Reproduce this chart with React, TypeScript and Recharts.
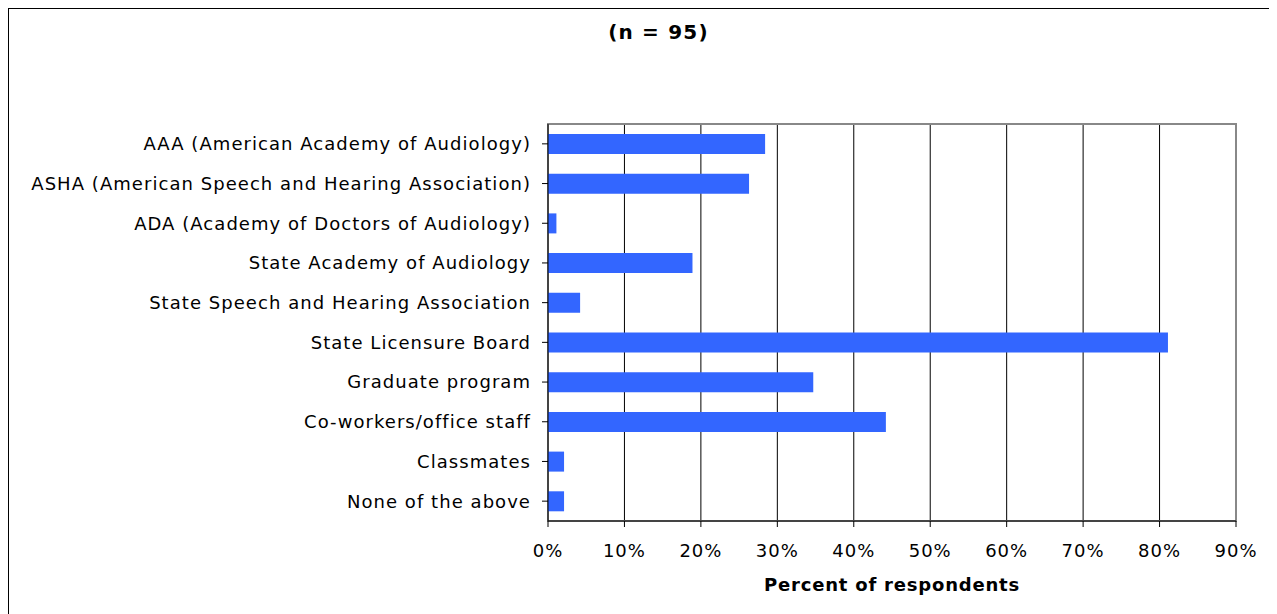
import { BarChart, Bar, XAxis, YAxis, CartesianGrid, ReferenceArea } from "recharts";

const sources = [
  "AAA (American Academy of Audiology)",
  "ASHA (American Speech and Hearing Association)",
  "ADA (Academy of Doctors of Audiology)",
  "State Academy of Audiology",
  "State Speech and Hearing Association",
  "State Licensure Board",
  "Graduate program",
  "Co-workers/office staff",
  "Classmates",
  "None of the above",
];

const percents = [28.4, 26.3, 1.1, 18.9, 4.2, 81.1, 34.7, 44.2, 2.1, 2.1];

const xTicks = [0, 10, 20, 30, 40, 50, 60, 70, 80, 90];

const chartData = sources.map((name, i) => ({ name, value: percents[i] }));

const font = "'DejaVu Sans', Verdana, sans-serif";

export default function App() {
  return (
    <div
      style={{
        position: "relative",
        width: 1269,
        height: 606,
        boxSizing: "border-box",
        borderTop: "1px solid #000",
        borderLeft: "1px solid #000",
        fontFamily: font,
        overflow: "hidden",
      }}
    >
      <div
        style={{
          position: "absolute",
          left: 0,
          width: 1299,
          top: 11,
          textAlign: "center",
          fontWeight: "bold",
          fontSize: 20,
          letterSpacing: 1.2,
          color: "#000",
        }}
      >
        (n = 95)
      </div>
      <BarChart
        width={1268}
        height={605}
        data={chartData}
        layout="vertical"
        margin={{ top: 115, right: 41, left: 0, bottom: 23 }}
        barCategoryGap="25%"
      >
        <CartesianGrid horizontal={false} stroke="#000" strokeWidth={1} />
        <ReferenceArea x1={0} x2={90} fill="none" stroke="#888" strokeWidth={2} ifOverflow="extendDomain" />
        <XAxis
          type="number"
          domain={[0, 90]}
          ticks={xTicks}
          tickFormatter={(v: number) => `${v}%`}
          tick={{ fill: "#000", fontSize: 18, fontFamily: font, letterSpacing: 1 }}
          tickSize={6}
          tickMargin={17}
          axisLine={{ stroke: "#000" }}
          tickLine={{ stroke: "#000" }}
          height={70}
          label={{
            value: "Percent of respondents",
            position: "insideBottom",
            offset: 0,
            fill: "#000",
            fontSize: 18,
            fontWeight: "bold",
            fontFamily: font,
            letterSpacing: 0.8,
          }}
        />
        <YAxis
          type="category"
          dataKey="name"
          width={539}
          interval={0}
          tick={{ fill: "#000", fontSize: 18, fontFamily: font, letterSpacing: 1.05 }}
          tickSize={6}
          tickMargin={11}
          axisLine={{ stroke: "#000" }}
          tickLine={{ stroke: "#000" }}
        />
        <Bar dataKey="value" fill="#3366FF" barSize={20} isAnimationActive={false} />
      </BarChart>
    </div>
  );
}
